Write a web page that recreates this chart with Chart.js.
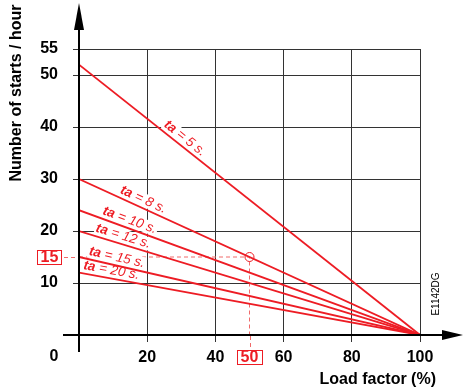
<!DOCTYPE html>
<html>
<head>
<meta charset="utf-8">
<script src="https://cdn.jsdelivr.net/npm/chart.js@4/dist/chart.umd.min.js"></script>
<style>
  html, body { margin: 0; padding: 0; background: #fff; }
  #wrap { width: 464px; height: 389px; }
</style>
</head>
<body>
<div id="wrap"><canvas id="chart"></canvas></div>
<script>
// chart data
var loadFactor = [0, 100];
var startTimes = [5, 8, 10, 12, 15, 20];
var startsAtNoLoad = [52, 30, 24, 20, 15, 12];
var startsAtFullLoad = [0, 0, 0, 0, 0, 0];
var xTicks = [0, 20, 40, 60, 80, 100];
var yTicks = [0, 10, 20, 30, 40, 50, 55];
var exampleLoad = 50;
var exampleStarts = 15;

var RED = '#ed1c24';
var FONT = '"Liberation Sans", Arial, sans-serif';
var LABEL_SIZE = 13.5;
// where along each line (in % load) the "ta = .." label sits
var labelAt = [29.6, 17.9, 14.1, 12.3, 10.6, 9.1];
var labelOffset = 8;

var datasets = [];
for (var i = 0; i < startTimes.length; i++) {
    datasets.push({
        label: 'ta = ' + startTimes[i] + ' s.',
        data: [{x: loadFactor[0], y: startsAtNoLoad[i]}, {x: loadFactor[1], y: startsAtFullLoad[i]}],
        borderColor: RED,
        borderWidth: 1.8,
        pointRadius: 0,
        tension: 0,
        order: 0
    });
}
// dashed guide for the worked example (drawn first, under the labels)
var guideIndex = datasets.length;
datasets.push({
    label: 'guide',
    data: [{x: 0, y: exampleStarts}, {x: exampleLoad, y: exampleStarts}, {x: exampleLoad, y: 0}],
    borderColor: '#f06a6a',
    borderWidth: 1,
    borderDash: [4, 3],
    pointRadius: 0,
    tension: 0,
    order: 5
});
datasets.push({
    label: 'point',
    data: [{x: exampleLoad, y: exampleStarts}],
    showLine: false,
    borderColor: RED,
    backgroundColor: 'rgba(0,0,0,0)',
    pointRadius: 4.5,
    pointBorderWidth: 1,
    pointHoverRadius: 4.5,
    order: 0
});

function labelGeom(chart, i) {
    var xs = chart.scales.x, ys = chart.scales.y;
    var x0 = xs.getPixelForValue(loadFactor[0]), y0 = ys.getPixelForValue(startsAtNoLoad[i]);
    var x1 = xs.getPixelForValue(loadFactor[1]), y1 = ys.getPixelForValue(startsAtFullLoad[i]);
    var ang = Math.atan2(y1 - y0, x1 - x0);
    var t = (labelAt[i] - loadFactor[0]) / (loadFactor[1] - loadFactor[0]);
    var cx = x0 + (x1 - x0) * t + Math.sin(ang) * labelOffset;
    var cy = y0 + (y1 - y0) * t - Math.cos(ang) * labelOffset;
    return {cx: cx, cy: cy, ang: ang};
}

function labelParts(ctx, i) {
    ctx.font = 'italic bold ' + LABEL_SIZE + 'px ' + FONT;
    var w1 = ctx.measureText('ta').width;
    var rest = ' = ' + startTimes[i] + ' s.';
    ctx.font = 'italic ' + LABEL_SIZE + 'px ' + FONT;
    var w2 = ctx.measureText(rest).width;
    return {rest: rest, w1: w1, w2: w2};
}

var overlay = {
    id: 'overlay',
    afterDatasetDraw: function(chart, args) {
        if (args.index !== guideIndex) return;
        // white boxes behind the line labels hide grid and guide
        var ctx = chart.ctx;
        ctx.save();
        for (var i = 0; i < startTimes.length; i++) {
            var g = labelGeom(chart, i);
            var p = labelParts(ctx, i);
            var w = p.w1 + p.w2;
            ctx.save();
            ctx.translate(g.cx, g.cy);
            ctx.rotate(g.ang);
            ctx.fillStyle = '#fff';
            ctx.fillRect(-w / 2 - 1, -6.5, w + 2, 13);
            ctx.restore();
        }
        ctx.restore();
    },
    afterDatasetsDraw: function(chart) {
        var ctx = chart.ctx;
        var xs = chart.scales.x, ys = chart.scales.y;
        var a = chart.chartArea;
        var ox = xs.getPixelForValue(0), oy = ys.getPixelForValue(0);
        ctx.save();

        // line labels
        for (var i = 0; i < startTimes.length; i++) {
            var g = labelGeom(chart, i);
            var p = labelParts(ctx, i);
            var w = p.w1 + p.w2;
            ctx.save();
            ctx.translate(g.cx, g.cy);
            ctx.rotate(g.ang);
            ctx.fillStyle = RED;
            ctx.textBaseline = 'middle';
            ctx.textAlign = 'left';
            ctx.font = 'italic bold ' + LABEL_SIZE + 'px ' + FONT;
            ctx.fillText('ta', -w / 2, 0);
            ctx.font = 'italic ' + LABEL_SIZE + 'px ' + FONT;
            ctx.fillText(p.rest, -w / 2 + p.w1, 0);
            ctx.restore();
        }

        // axes with arrows
        ctx.strokeStyle = '#000';
        ctx.fillStyle = '#000';
        ctx.lineWidth = 2;
        ctx.beginPath();
        ctx.moveTo(ox, a.bottom + 17);
        ctx.lineTo(ox, a.top - 20);
        ctx.moveTo(ox - 16, oy);
        ctx.lineTo(a.right + 24, oy);
        ctx.stroke();
        ctx.beginPath();
        ctx.moveTo(ox, a.top - 46);
        ctx.lineTo(ox - 5, a.top - 19);
        ctx.lineTo(ox + 5, a.top - 19);
        ctx.closePath();
        ctx.fill();
        ctx.beginPath();
        ctx.moveTo(a.right + 43, oy);
        ctx.lineTo(a.right + 22, oy - 5);
        ctx.lineTo(a.right + 22, oy + 5);
        ctx.closePath();
        ctx.fill();

        // origin label
        ctx.font = 'bold 16px ' + FONT;
        ctx.textAlign = 'center';
        ctx.textBaseline = 'middle';
        ctx.fillText('0', ox - 25, oy + 22);

        // boxed example values
        var ey = ys.getPixelForValue(exampleStarts);
        var ex = xs.getPixelForValue(exampleLoad);
        ctx.lineWidth = 1;
        ctx.strokeStyle = RED;
        ctx.fillStyle = RED;
        ctx.strokeRect(37.5, Math.round(ey) - 6.5, 24, 14);
        ctx.fillText(String(exampleStarts), 49.5, ey + 1);
        ctx.strokeRect(Math.round(ex) - 12.5, oy + 15.5, 25, 14);
        ctx.fillText(String(exampleLoad), ex, oy + 23);
        ctx.strokeStyle = '#f06a6a';
        ctx.setLineDash([4, 3]);
        ctx.beginPath();
        ctx.moveTo(64, Math.round(ey) + 0.5);
        ctx.lineTo(ox - 1, Math.round(ey) + 0.5);
        ctx.moveTo(Math.round(ex) + 0.5, oy + 1);
        ctx.lineTo(Math.round(ex) + 0.5, oy + 15);
        ctx.stroke();
        ctx.setLineDash([]);

        // axis titles
        ctx.fillStyle = '#000';
        ctx.font = 'bold 16px ' + FONT;
        ctx.textAlign = 'right';
        ctx.fillText('Load factor (%)', 436, 380);
        ctx.save();
        ctx.translate(17, 93);
        ctx.rotate(-Math.PI / 2);
        ctx.textAlign = 'center';
        ctx.fillText('Number of starts / hour', 0, 0);
        ctx.restore();

        // drawing reference
        ctx.save();
        ctx.translate(436, 294);
        ctx.rotate(-Math.PI / 2);
        ctx.font = '10px ' + FONT;
        ctx.textAlign = 'center';
        ctx.fillText('E1142DG', 0, 0);
        ctx.restore();

        ctx.restore();
    }
};

var ctx = document.getElementById('chart');
var myChart = new Chart(ctx, {
    type: 'line',
    data: { datasets: datasets },
    options: {
        responsive: true,
        maintainAspectRatio: false,
        animation: false,
        layout: { padding: { top: 49, right: 44, left: 0, bottom: 0 } },
        plugins: {
            legend: { display: false },
            tooltip: { enabled: false }
        },
        scales: {
            x: {
                type: 'linear',
                min: 0,
                max: 100,
                afterBuildTicks: function(s) { s.ticks = xTicks.map(function(v) { return {value: v}; }); },
                afterFit: function(s) { s.height = 54; },
                border: { display: false },
                grid: { color: '#333', lineWidth: 1, tickLength: 7 },
                ticks: {
                    color: '#000',
                    padding: 6,
                    maxRotation: 0,
                    font: { family: FONT, size: 16, weight: 'bold' },
                    callback: function(v) { return v === 0 ? '' : v; }
                }
            },
            y: {
                min: 0,
                max: 55,
                afterBuildTicks: function(s) { s.ticks = yTicks.map(function(v) { return {value: v}; }); },
                afterFit: function(s) { s.width = 79; },
                border: { display: false },
                grid: { color: '#333', lineWidth: 1, tickLength: 6 },
                ticks: {
                    color: '#000',
                    padding: 15,
                    font: { family: FONT, size: 16, weight: 'bold' },
                    callback: function(v) { return v === 0 ? '' : v; }
                }
            }
        }
    },
    plugins: [overlay]
});
</script>
</body>
</html>
